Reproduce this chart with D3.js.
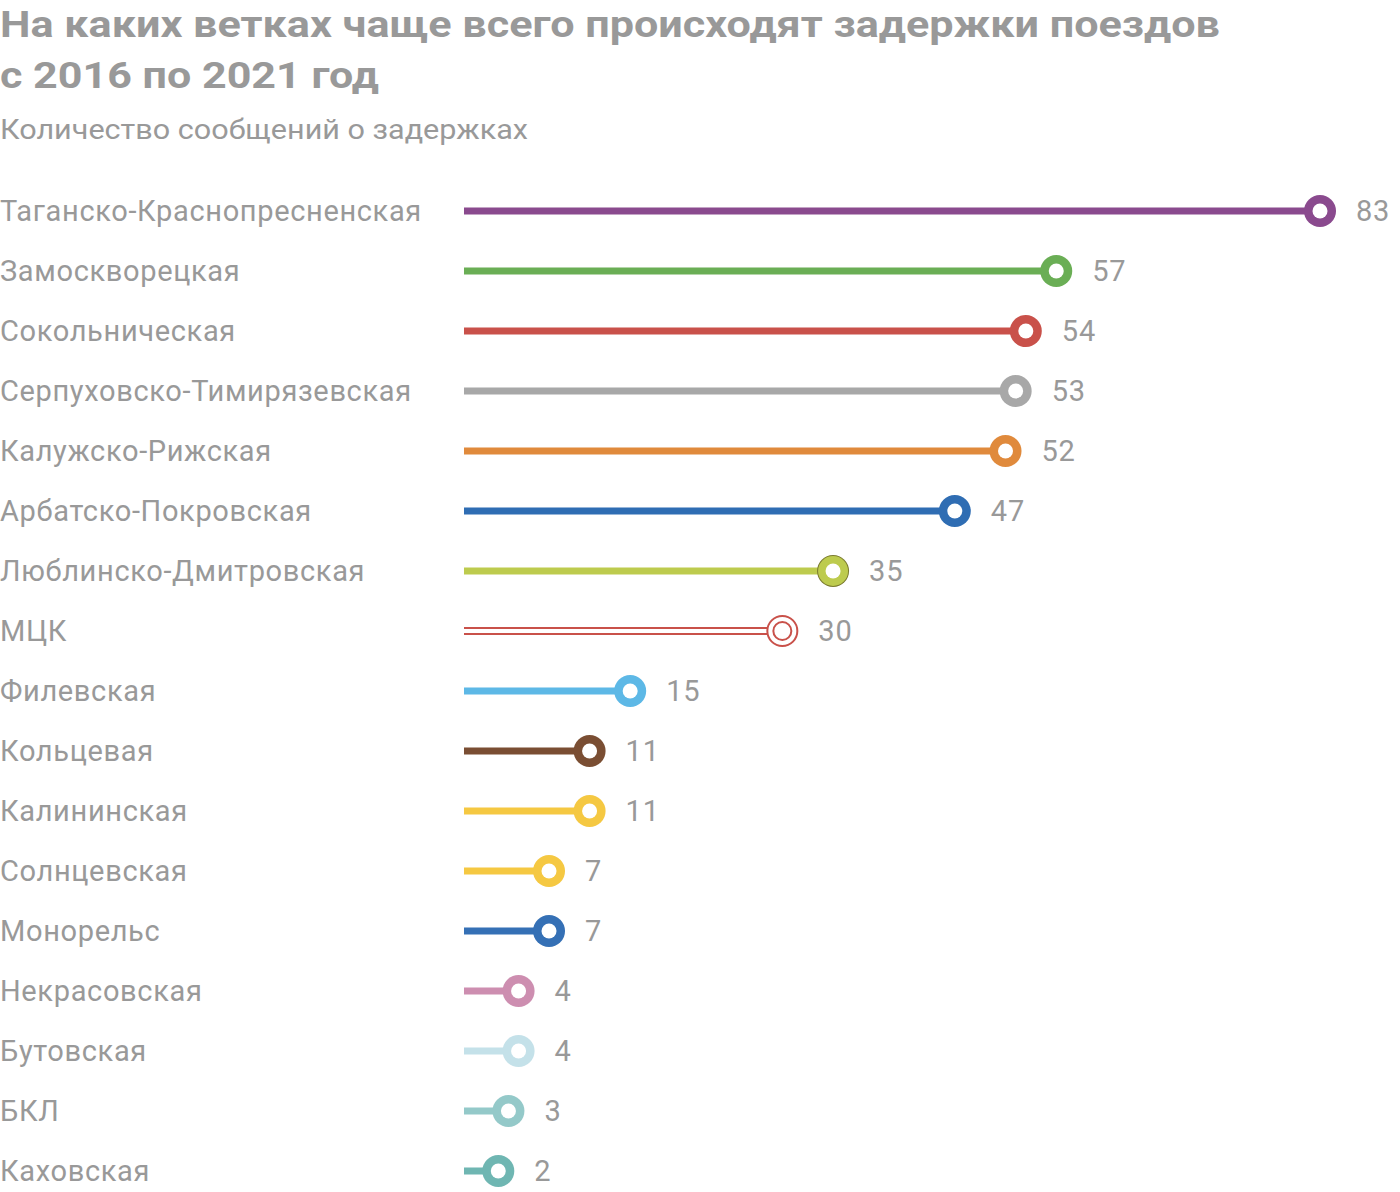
<!DOCTYPE html>
<html><head><meta charset="utf-8">
<script src="https://cdn.jsdelivr.net/npm/d3@7"></script>
<style>body{margin:0;background:#fff}svg{display:block}</style>
</head><body>
<svg id="c" width="1400" height="1192"></svg>
<script>
const titleLines = ["На каких ветках чаще всего происходят задержки поездов","с 2016 по 2021 год"];
const subtitle = "Количество сообщений о задержках";
const lines = ["Таганско-Краснопресненская","Замоскворецкая","Сокольническая","Серпуховско-Тимирязевская","Калужско-Рижская","Арбатско-Покровская","Люблинско-Дмитровская","МЦК","Филевская","Кольцевая","Калининская","Солнцевская","Монорельс","Некрасовская","Бутовская","БКЛ","Каховская"];
const values = [83,57,54,53,52,47,35,30,15,11,11,7,7,4,4,3,2];
const colors = ["#8a4a8e","#6aae55","#c9514a","#a8a8a8","#e08a3c","#2f6db3","#bdcb4e","#c9514a","#5db8e6","#7a4e33","#f5c842","#f5c842","#3570b5","#cd8eb0","#c4e1e9","#94c9c9","#6fb6b2"];

const svg = d3.select("#c");
const grey = "#999";
function fitWidth(sel, target){
  const w = sel.node().getComputedTextLength();
  if (w > 0) sel.attr("textLength", target).attr("lengthAdjust","spacingAndGlyphs");
}
const t1 = svg.append("text").attr("x",0).attr("y",37).attr("font-family","Roboto").attr("font-weight",700).attr("font-size",37).attr("fill",grey).text(titleLines[0]);
fitWidth(t1, 1220);
const t2 = svg.append("text").attr("x",0).attr("y",88).attr("font-family","Roboto").attr("font-weight",700).attr("font-size",37).attr("fill",grey).text(titleLines[1]);
fitWidth(t2, 379);
const st = svg.append("text").attr("x",0).attr("y",139).attr("font-family","Roboto").attr("font-size",27).attr("fill",grey).text(subtitle);
fitWidth(st, 528);

const x = d3.scaleLinear().domain([0,83]).range([478,1320]);
const y = d3.scalePoint().domain(lines).range([211,1171]);
const x0 = 464;

const g = svg.append("g");
lines.forEach((name,i)=>{
  const v = values[i], c = colors[i], cy = y(name), cx = x(v);
  g.append("text").attr("x",0).attr("y",cy+10).attr("font-family","Roboto").attr("font-size",29).attr("letter-spacing",0.65).attr("fill",grey).text(name);
  if(name==="МЦК"){
    [-3,3].forEach(o=>g.append("line").attr("x1",x0).attr("x2",cx-14).attr("y1",cy+o).attr("y2",cy+o).attr("stroke",c).attr("stroke-width",2));
    g.append("circle").attr("cx",cx).attr("cy",cy).attr("r",15).attr("fill","#fff").attr("stroke",c).attr("stroke-width",2);
    g.append("circle").attr("cx",cx).attr("cy",cy).attr("r",9).attr("fill","#fff").attr("stroke",c).attr("stroke-width",2);
  } else {
    g.append("line").attr("x1",x0).attr("x2",cx).attr("y1",cy).attr("y2",cy).attr("stroke",c).attr("stroke-width",7);
    if(name==="Люблинско-Дмитровская"){
      g.append("circle").attr("cx",cx).attr("cy",cy).attr("r",16).attr("fill","#7a7a2e");
      g.append("circle").attr("cx",cx).attr("cy",cy).attr("r",15).attr("fill",c);
    } else {
      g.append("circle").attr("cx",cx).attr("cy",cy).attr("r",16).attr("fill",c);
    }
    g.append("circle").attr("cx",cx).attr("cy",cy).attr("r",7.5).attr("fill","#fff");
  }
  g.append("text").attr("x",cx+36).attr("y",cy+10).attr("font-family","Roboto").attr("font-size",29).attr("letter-spacing",0.8).attr("fill",grey).text(v);
});
</script>
</body></html>
